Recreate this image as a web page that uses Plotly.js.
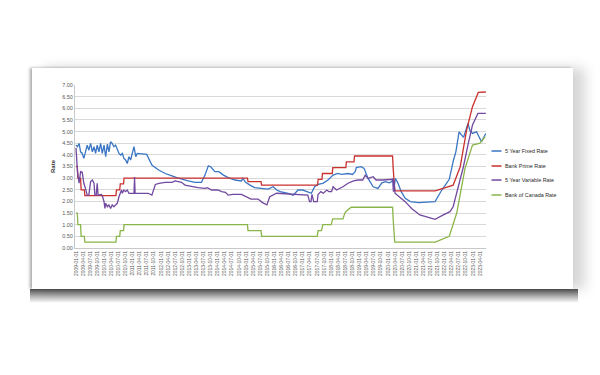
<!DOCTYPE html>
<html><head><meta charset="utf-8">
<script src="https://cdn.plot.ly/plotly-3.0.1.min.js"></script>
<style>
html,body{margin:0;padding:0;background:#fff;width:600px;height:375px;overflow:hidden}
#card{position:absolute;left:32px;top:68px;width:541px;height:221px;background:#fff;box-shadow:-2px 0 3px rgba(0,0,0,0.35), 12px 0 12px rgba(0,0,0,0.16)}
#shadowB{position:absolute;left:30px;top:289px;width:548px;height:14px;background:linear-gradient(to bottom, rgba(50,50,50,0.85), rgba(110,110,110,0.5) 55%, rgba(255,255,255,0));filter:blur(0.6px)}
#chart{position:absolute;left:0;top:0;width:600px;height:375px}
</style></head>
<body>
<div id="card"></div>
<div id="shadowB"></div>
<div id="chart"></div>
<script>
// ---- data ----
const seriesNames = ["5 Year Fixed Rate", "Bank Prime Rate", "5 Year Variable Rate", "Bank of Canada Rate"];
const seriesColors = ["#3a76c4", "#c9312f", "#7249a0", "#8ab54a"];

const fixedDates = ["2009-01-01","2009-01-20","2009-02-10","2009-03-01","2009-03-22","2009-04-12","2009-05-03","2009-05-25","2009-06-15","2009-07-08","2009-07-30","2009-08-21","2009-09-10","2009-10-01","2009-10-23","2009-11-14","2009-12-05","2009-12-28","2010-01-18","2010-02-09","2010-03-01","2010-03-22","2010-04-12","2010-05-04","2010-05-26","2010-06-16","2010-07-08","2010-07-30","2010-08-21","2010-09-10","2010-10-01","2010-10-23","2010-11-14","2010-12-05","2010-12-28","2011-01-18","2011-02-09","2011-03-01","2011-07-01","2011-09-05","2011-12-01","2012-02-25","2012-05-20","2012-07-20","2012-12-15","2013-03-15","2013-06-05","2013-07-20","2013-09-01","2013-10-01","2013-11-25","2014-01-15","2014-03-15","2014-05-15","2014-08-10","2014-11-01","2014-11-20","2014-12-25","2015-02-20","2015-04-20","2015-07-15","2015-10-12","2015-12-15","2016-01-30","2016-03-15","2016-06-25","2016-08-30","2016-10-30","2016-12-30","2017-03-05","2017-04-20","2017-06-01","2017-07-15","2017-09-15","2017-11-20","2018-01-25","2018-03-28","2018-05-15","2018-08-05","2018-10-01","2018-11-05","2018-11-20","2019-01-20","2019-02-28","2019-04-20","2019-06-25","2019-08-25","2019-10-15","2019-12-01","2020-01-20","2020-02-20","2020-03-05","2020-03-15","2020-04-05","2020-05-10","2020-06-20","2020-08-10","2020-10-15","2021-01-30","2021-08-30","2021-11-25","2022-03-01","2022-03-20","2022-04-25","2022-05-25","2022-07-05","2022-09-01","2022-10-28","2022-11-20","2022-12-25","2023-02-15","2023-04-20","2023-06-15"];
const fixedRate = [4.42,4.35,4.49,4.13,4.06,3.85,4.13,4.42,4.2,4.49,4.13,4.35,4.06,4.42,4.13,4.49,4.06,4.42,3.92,4.46,4.13,4.56,4.49,4.35,4.42,4.2,4.06,3.99,4.06,3.85,3.78,3.63,3.92,3.78,4.06,4.35,3.92,4.06,4.02,3.56,3.35,3.2,3.1,3.02,2.88,2.82,2.82,3.13,3.53,3.49,3.28,3.28,3.13,3.02,2.92,2.88,2.99,2.82,2.7,2.59,2.56,2.53,2.63,2.49,2.42,2.35,2.27,2.49,2.49,2.42,2.35,2.63,2.73,2.78,2.92,3.13,3.2,3.16,3.2,3.16,3.28,3.45,3.49,3.42,2.99,2.63,2.56,2.8,2.85,2.8,2.85,2.99,2.45,2.99,2.78,2.42,2.13,1.99,1.95,1.99,2.49,2.95,3.28,3.78,4.13,4.99,4.75,5.35,5.06,4.92,4.99,4.56,4.92];

const primeDates = ["2009-01-01","2009-01-18","2009-01-25","2009-03-01","2009-03-08","2009-04-18","2009-04-25","2010-05-30","2010-06-06","2010-07-18","2010-07-25","2010-09-05","2010-09-12","2015-01-18","2015-01-25","2015-07-12","2015-07-19","2017-07-09","2017-07-16","2017-09-03","2017-09-10","2018-01-14","2018-01-21","2018-07-08","2018-07-15","2018-10-21","2018-10-28","2020-03-01","2020-03-08","2020-03-15","2020-03-29","2021-09-01","2022-04-20","2022-07-20","2022-10-10","2022-12-25","2023-03-10","2023-06-15"];
const primeRate = [3.5,3.5,3.0,3.0,2.5,2.5,2.25,2.25,2.5,2.5,2.75,2.75,3.0,3.0,2.85,2.85,2.7,2.7,2.95,2.95,3.2,3.2,3.45,3.45,3.7,3.7,3.95,3.95,3.45,2.95,2.45,2.45,2.7,3.49,5.06,6.07,6.68,6.7];

const variableDates = ["2009-01-01","2009-01-20","2009-02-10","2009-03-01","2009-03-22","2009-04-12","2009-05-03","2009-05-25","2009-06-15","2009-07-08","2009-07-30","2009-08-21","2009-09-01","2009-09-18","2009-10-01","2009-10-12","2009-11-25","2009-12-10","2009-12-28","2010-01-08","2010-01-18","2010-02-09","2010-03-01","2010-03-22","2010-04-12","2010-05-04","2010-05-26","2010-06-16","2010-07-08","2010-07-30","2010-08-10","2010-08-21","2010-09-10","2010-10-01","2010-10-23","2010-11-14","2011-01-18","2011-01-25","2011-02-01","2011-07-20","2011-09-05","2011-10-20","2011-12-05","2012-02-25","2012-05-20","2012-07-01","2012-09-20","2012-11-05","2013-02-01","2013-04-20","2013-07-20","2013-08-20","2013-10-12","2014-01-01","2014-02-20","2014-04-10","2014-05-15","2014-07-15","2014-11-01","2015-01-22","2015-03-05","2015-06-05","2015-07-25","2015-09-25","2015-11-01","2016-01-30","2016-10-30","2017-03-05","2017-03-28","2017-04-15","2017-04-28","2017-05-20","2017-07-05","2017-07-15","2017-08-20","2017-09-20","2017-11-05","2017-12-01","2018-01-05","2018-01-25","2018-03-10","2018-04-20","2018-06-01","2018-08-05","2018-10-15","2018-12-15","2019-02-10","2019-03-15","2019-04-20","2019-06-25","2019-08-01","2019-10-25","2020-03-05","2020-03-12","2020-03-20","2020-04-01","2020-08-10","2020-11-01","2021-02-15","2021-06-05","2021-08-30","2021-12-15","2022-03-10","2022-04-20","2022-06-28","2022-08-30","2022-11-01","2022-12-25","2023-03-05","2023-06-15"];
const variableRate = [4.3,3.28,2.78,3.28,3.25,2.78,2.56,2.27,2.27,2.85,2.92,2.78,2.27,2.27,2.78,2.27,2.3,2.2,1.99,1.7,1.92,1.77,1.85,1.7,1.85,1.77,1.85,1.92,2.2,2.42,2.49,2.35,2.49,2.42,2.49,2.35,2.35,3.05,2.35,2.35,2.27,2.73,2.78,2.82,2.82,2.88,2.82,2.7,2.63,2.59,2.56,2.59,2.49,2.49,2.42,2.39,2.27,2.3,2.3,2.16,2.1,2.1,1.96,1.85,2.2,2.35,2.3,2.27,1.99,1.99,2.3,1.99,1.99,2.3,2.42,2.35,2.49,2.42,2.42,2.63,2.49,2.56,2.63,2.78,2.88,2.92,2.92,3.13,2.99,3.06,2.92,2.92,2.95,2.42,2.9,2.35,1.99,1.7,1.42,1.32,1.23,1.42,1.56,1.77,2.63,3.49,4.49,5.28,5.78,5.78];

const bocDates = ["2009-01-01","2009-01-18","2009-01-25","2009-03-01","2009-03-08","2009-04-18","2009-04-25","2010-05-30","2010-06-06","2010-07-18","2010-07-25","2010-09-05","2010-09-12","2015-01-18","2015-01-25","2015-07-12","2015-07-19","2017-07-05","2017-07-15","2017-08-28","2017-09-15","2017-12-31","2018-01-20","2018-06-01","2018-06-25","2018-07-20","2018-09-15","2020-03-01","2020-03-08","2020-03-19","2020-03-29","2021-09-01","2022-03-01","2022-06-05","2022-09-20","2022-12-25","2023-04-01","2023-06-07"];
const bocRate = [1.5,1.5,1.0,1.0,0.5,0.5,0.25,0.25,0.5,0.5,0.75,0.75,1.0,1.0,0.75,0.75,0.5,0.5,0.75,0.75,1.0,1.0,1.25,1.25,1.5,1.6,1.75,1.75,1.25,0.75,0.25,0.25,0.5,1.5,3.42,4.42,4.5,4.78];

const yTitle = "Rate";

// ---- chart ----
const xs = [fixedDates, primeDates, variableDates, bocDates];
const ys = [fixedRate, primeRate, variableRate, bocRate];
const traces = seriesNames.map((n, i) => ({
  type: "scatter", mode: "lines", name: n, x: xs[i], y: ys[i],
  line: {color: seriesColors[i], width: 1.3}, showlegend: false, hoverinfo: "skip"
}));

// legend drawn manually (compact Excel-style legend)
const legY = [0.595, 0.503, 0.417, 0.325];
const shapes = seriesNames.map((n, i) => ({
  type: "line", xref: "paper", yref: "paper", x0: 1.0134, x1: 1.0377, y0: legY[i], y1: legY[i],
  line: {color: seriesColors[i], width: 1.5}
}));
const annotations = seriesNames.map((n, i) => ({
  xref: "paper", yref: "paper", x: 1.0414, y: legY[i], xanchor: "left", yanchor: "middle",
  text: n, showarrow: false, font: {family: "Liberation Sans, Arial, sans-serif", size: 5.4, color: "#2a2a2a"}
}));

const layout = {
  width: 600, height: 375,
  margin: {l: 75, r: 114, t: 85, b: 127, pad: 0},
  paper_bgcolor: "rgba(0,0,0,0)", plot_bgcolor: "rgba(0,0,0,0)",
  font: {family: "Liberation Sans, Arial, sans-serif", color: "#595959"},
  showlegend: false,
  xaxis: {
    type: "date", range: ["2008-12-19", "2023-06-17"],
    tick0: "2009-01-01", dtick: "M3", tickformat: "%Y-%m-%d", tickangle: -90,
    tickfont: {size: 4.9, color: "#595959"}, showgrid: false, zeroline: false,
    showline: true, linecolor: "#c8c8c8", linewidth: 1, ticks: "", automargin: false
  },
  yaxis: {
    range: [0, 7], dtick: 0.5, tick0: 0, tickformat: ".2f",
    tickfont: {size: 5.5, color: "#595959"}, showgrid: true, gridcolor: "#d9d9d9", gridwidth: 1,
    zeroline: false, showline: true, linecolor: "#c8c8c8", linewidth: 1, ticks: "", automargin: false,
    title: {text: yTitle, font: {size: 6, color: "#333333", weight: "bold"}, standoff: 6}
  },
  shapes: shapes, annotations: annotations
};

Plotly.newPlot("chart", traces, layout, {staticPlot: true, displayModeBar: false});
</script>
</body></html>
